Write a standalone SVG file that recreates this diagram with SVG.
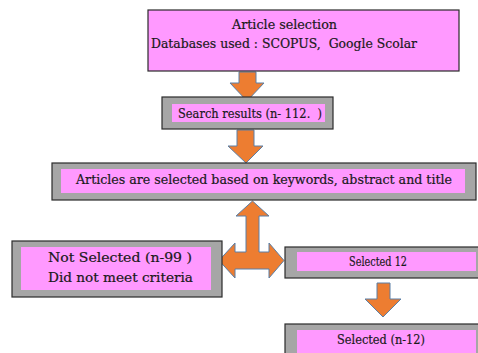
<svg xmlns="http://www.w3.org/2000/svg" width="478" height="353" viewBox="0 0 478 353">
<style>
.outer{fill:#A6A6A6;stroke:#2b2b2b;stroke-width:1.2}
.inner{fill:#FF99FF;stroke:none}
.top{fill:#FF99FF;stroke:#2b2b2b;stroke-width:1.2}
.arrow{fill:#ED7D31;stroke:#5B7FA6;stroke-width:1}
text{font-family:"DejaVu Serif","Liberation Serif",serif;font-size:12.5px;fill:#1a1a1a;stroke:#1a1a1a;stroke-width:0.2;white-space:pre}
</style>
<rect width="478" height="353" fill="#fff"/>
<g id="connectors">
<polygon class="arrow" points="239,72 256,72 256,83 264,83 247,101 230,83 239,83"/>
<polygon class="arrow" points="237,130 254,130 254,146 263,146 246,163 228,146 237,146"/>
<polygon class="arrow" points="252.5,201 269,216 259,216 259,252 269,252 269,243 284,260.5 269,278 269,269 235,269 235,278 219,260.5 235,243 235,252 246,252 246,216 236,216"/>
<polygon class="arrow" points="377,283 390,283 390,299 401,299 383,317 365,299 377,299"/>
</g>
<g id="article-selection">
<rect class="top" x="148" y="10" width="311" height="61"/>
<text x="284.5" y="29" text-anchor="middle" textLength="105" lengthAdjust="spacingAndGlyphs">Article selection</text>
<text x="284" y="48" text-anchor="middle" textLength="266" lengthAdjust="spacingAndGlyphs" xml:space="preserve">Databases used : SCOPUS,  Google Scolar</text>
</g>
<g id="search-results">
<rect class="outer" x="162" y="97" width="171" height="32"/>
<rect class="inner" x="172" y="104" width="153" height="18"/>
<text x="250" y="118" text-anchor="middle" textLength="144" lengthAdjust="spacingAndGlyphs" xml:space="preserve">Search results (n- 112.  )</text>
</g>
<g id="articles-selected">
<rect class="outer" x="52" y="163" width="424" height="37"/>
<rect class="inner" x="61" y="169" width="404" height="24"/>
<text x="264" y="184" text-anchor="middle" textLength="376" lengthAdjust="spacingAndGlyphs">Articles are selected based on keywords, abstract and title</text>
</g>
<g id="not-selected">
<rect class="outer" x="12" y="241" width="210" height="56"/>
<rect class="inner" x="21" y="247" width="190" height="43"/>
<text x="120" y="262" text-anchor="middle" textLength="144" lengthAdjust="spacingAndGlyphs">Not Selected (n-99 )</text>
<text x="120.5" y="282" text-anchor="middle" textLength="145" lengthAdjust="spacingAndGlyphs">Did not meet criteria</text>
</g>
<g id="selected-12">
<rect class="outer" x="285" y="247" width="196" height="31"/>
<rect class="inner" x="297" y="252" width="179" height="19"/>
<text x="378" y="266" text-anchor="middle" textLength="58" lengthAdjust="spacingAndGlyphs">Selected 12</text>
</g>
<g id="selected-n-12">
<rect class="outer" x="285" y="324" width="196" height="36"/>
<rect class="inner" x="297" y="330" width="179" height="30"/>
<text x="381" y="344" text-anchor="middle" textLength="88" lengthAdjust="spacingAndGlyphs">Selected (n-12)</text>
</g>
</svg>
